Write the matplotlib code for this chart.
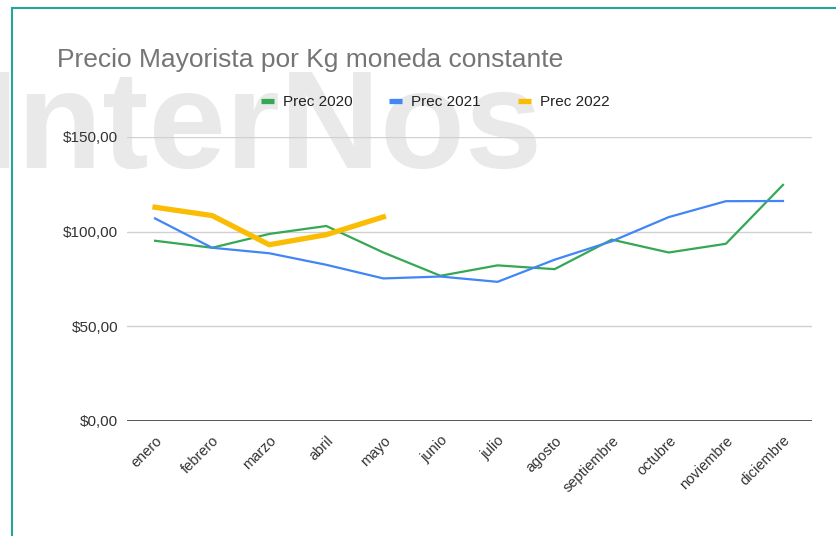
import matplotlib
matplotlib.use("Agg")
import matplotlib.pyplot as plt
from matplotlib.lines import Line2D
import numpy as np

MONTHS = ["enero", "febrero", "marzo", "abril", "mayo", "junio", "julio",
          "agosto", "septiembre", "octubre", "noviembre", "diciembre"]
PREC_2020 = [95.2, 91.5, 98.8, 103.0, 89.0, 76.7, 82.2, 80.2, 95.8, 89.0, 93.6, 124.7]
PREC_2021 = [107.0, 91.5, 88.6, 82.5, 75.3, 76.3, 73.5, 85.2, 94.9, 107.7, 116.1, 116.2]
PREC_2022 = [112.9, 108.5, 93.1, 98.4, 107.8]
Y_TICKS = [0, 50, 100, 150]
Y_LABELS = ["$0,00", "$50,00", "$100,00", "$150,00"]

GREEN = "#34a853"
BLUE = "#4285f4"
YELLOW = "#fbbc04"

plt.rcParams["font.family"] = ["Liberation Sans", "DejaVu Sans"]

W, H = 836, 536
fig = plt.figure(figsize=(W / 100, H / 100), dpi=100)

# watermark, below the axes
fig.text(-20 / W, 1 - 168 / H, "InterNos", fontsize=100, fontweight="bold",
         color="#e9e9e9", zorder=-1, ha="left", va="baseline")

# teal frame (left and top edges)
fig.add_artist(Line2D([12 / W, 12 / W], [0, 1 - 8 / H], color="#26a69a",
                      linewidth=1.5, transform=fig.transFigure))
fig.add_artist(Line2D([12 / W, 1], [1 - 8 / H, 1 - 8 / H], color="#26a69a",
                      linewidth=1.5, transform=fig.transFigure))

ax = fig.add_axes([126.5 / W, 1 - 421 / H, 685 / W, 284 / H])
ax.patch.set_alpha(0)

x = np.arange(len(MONTHS))
ax.plot(x, PREC_2020, color=GREEN, linewidth=1.6, label="Prec 2020", zorder=3)
ax.plot(x, PREC_2021, color=BLUE, linewidth=1.6, label="Prec 2021", zorder=3)
ax.plot(x[:len(PREC_2022)], PREC_2022, color=YELLOW, linewidth=3.8,
        label="Prec 2022", zorder=4)

ax.set_xlim(-0.5, len(MONTHS) - 0.5)
ax.set_ylim(0, 150)
ax.set_yticks(Y_TICKS)
ax.set_yticklabels(Y_LABELS)
for t in Y_TICKS[1:]:
    ax.axhline(t, color="#d0d0d0", linewidth=1.0, zorder=1)
ax.axhline(0, color="#555555", linewidth=1.4, zorder=2)

ax.set_xticks(x)
ax.set_xticklabels(MONTHS, rotation=45, ha="right", va="top",
                   rotation_mode="anchor")
ax.tick_params(axis="both", length=0, labelsize=11, labelcolor="#333333")
ax.tick_params(axis="x", labelsize=10.5)
ax.tick_params(axis="y", pad=6)
ax.tick_params(axis="x", pad=9)
for s in ax.spines.values():
    s.set_visible(False)

fig.text(57 / W, 1 - 60 / H, "Precio Mayorista por Kg moneda constante",
         fontsize=19, color="#757575", ha="left", va="center")

leg = fig.legend(loc="center", bbox_to_anchor=(435 / W, 1 - 102 / H), ncol=3,
                 frameon=False, fontsize=11, handlelength=0.85, handletextpad=0.6,
                 columnspacing=2.4)
for h in leg.get_lines():
    h.set_linewidth(3.8)
    h.set_solid_capstyle("butt")
for t in leg.get_texts():
    t.set_color("#222222")

fig.savefig("out.png", dpi=100)
